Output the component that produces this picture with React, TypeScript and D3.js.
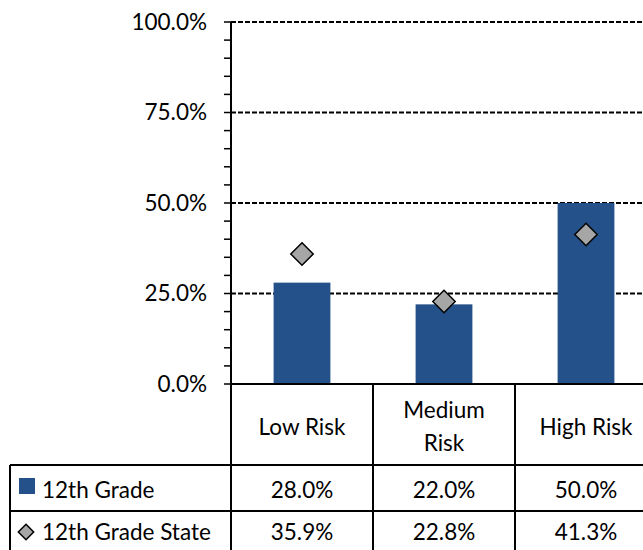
import * as d3 from 'd3';
import { useEffect, useRef } from 'react';

const categories = ['Low Risk', 'Medium Risk', 'High Risk'];
const headerLines = [['Low Risk'], ['Medium', 'Risk'], ['High Risk']];
const grade12 = [28.0, 22.0, 50.0];
const grade12State = [35.9, 22.8, 41.3];
const seriesNames = ['12th Grade', '12th Grade State'];
const yTicks = [0, 25, 50, 75, 100];

export default function App() {
  const ref = useRef<SVGSVGElement>(null);

  useEffect(() => {
    const svg = d3.select(ref.current);
    svg.selectAll('*').remove();
    const font = 'Lato, "Open Sans", sans-serif';
    const fs = 22.5;

    const left = 231;
    const top = 22;
    const bottom = 384;
    const x = d3.scaleBand<string>().domain(categories).range([left, left + 426]).paddingInner(0.6).paddingOuter(0.3);
    const band = d3.scaleBand<string>().domain(categories).range([left, left + 426]);
    const y = d3.scaleLinear().domain([0, 100]).range([bottom, top]);

    // gridlines
    svg
      .append('g')
      .selectAll('line')
      .data(yTicks.filter((t) => t > 0))
      .join('line')
      .attr('x1', left)
      .attr('x2', 643)
      .attr('y1', (d) => y(d))
      .attr('y2', (d) => y(d))
      .attr('stroke', '#000')
      .attr('stroke-width', 1.8)
      .attr('stroke-dasharray', '5,2');

    // bars
    svg
      .append('g')
      .selectAll('rect')
      .data(grade12)
      .join('rect')
      .attr('x', (_d, i) => x(categories[i])!)
      .attr('width', x.bandwidth())
      .attr('y', (d) => y(d))
      .attr('height', (d) => bottom - y(d))
      .attr('fill', '#245189');

    // diamonds
    const sym = d3.symbol().type(d3.symbolDiamond2).size(320);
    svg
      .append('g')
      .selectAll('path')
      .data(grade12State)
      .join('path')
      .attr('d', sym)
      .attr('transform', (d, i) => `translate(${band(categories[i])! + band.bandwidth() / 2},${y(d)})`)
      .attr('fill', '#a6a6a6')
      .attr('stroke', '#000')
      .attr('stroke-width', 1.5);

    // y axis
    const minor = d3.range(0, 101, 5);
    const ax = svg.append('g');
    ax.selectAll('line.tick')
      .data(minor)
      .join('line')
      .attr('class', 'tick')
      .attr('x1', left - 7)
      .attr('x2', left)
      .attr('y1', (d) => y(d))
      .attr('y2', (d) => y(d))
      .attr('stroke', '#000')
      .attr('stroke-width', 1.5);
    ax.append('line')
      .attr('x1', left)
      .attr('x2', left)
      .attr('y1', top)
      .attr('y2', bottom)
      .attr('stroke', '#000')
      .attr('stroke-width', 2);
    ax.selectAll('text')
      .data(yTicks)
      .join('text')
      .attr('x', 207)
      .attr('y', (d) => y(d))
      .attr('dy', '0.35em')
      .attr('text-anchor', 'end')
      .attr('font-family', font)
      .attr('font-size', fs)
      .attr('fill', '#000')
      .text((d) => d3.format('.1f')(d) + '%');

    // data table
    const rowTop = 465;
    const rowMid = 511;
    const tableLeft = 10;
    const t = svg.append('g').attr('stroke', '#000').attr('stroke-width', 2);
    t.append('line').attr('x1', left).attr('x2', 643).attr('y1', bottom).attr('y2', bottom);
    t.append('line').attr('x1', tableLeft).attr('x2', 643).attr('y1', rowTop).attr('y2', rowTop);
    t.append('line').attr('x1', tableLeft).attr('x2', 643).attr('y1', rowMid).attr('y2', rowMid);
    t.append('line').attr('x1', tableLeft).attr('x2', tableLeft).attr('y1', rowTop).attr('y2', 550);
    t.append('line').attr('x1', left).attr('x2', left).attr('y1', bottom).attr('y2', 550);
    t.selectAll('line.div')
      .data(categories.slice(1))
      .join('line')
      .attr('class', 'div')
      .attr('x1', (d) => band(d)!)
      .attr('x2', (d) => band(d)!)
      .attr('y1', bottom)
      .attr('y2', 550);

    const txt = svg.append('g').attr('font-family', font).attr('font-size', fs).attr('fill', '#000').attr('text-anchor', 'middle');
    headerLines.forEach((lines, i) => {
      const cx = band(categories[i])! + band.bandwidth() / 2;
      const cy = 427;
      lines.forEach((l, j) => {
        txt
          .append('text')
          .attr('x', cx)
          .attr('y', cy + (j - (lines.length - 1) / 2) * 33)
          .attr('dy', '0.35em')
          .text(l);
      });
    });
    const fmt = (v: number) => d3.format('.1f')(v) + '%';
    [grade12, grade12State].forEach((vals, r) => {
      const cy = r === 0 ? 490 : 532;
      vals.forEach((v, i) => {
        txt
          .append('text')
          .attr('x', band(categories[i])! + band.bandwidth() / 2)
          .attr('y', cy)
          .attr('dy', '0.35em')
          .text(fmt(v));
      });
    });

    // legend keys
    const lg = svg.append('g').attr('font-family', font).attr('font-size', fs).attr('fill', '#000');
    lg.append('rect').attr('x', 19).attr('y', 478).attr('width', 16).attr('height', 16).attr('fill', '#245189');
    lg.append('path')
      .attr('d', d3.symbol().type(d3.symbolDiamond2).size(150)())
      .attr('transform', `translate(26,532)`)
      .attr('fill', '#a6a6a6')
      .attr('stroke', '#000')
      .attr('stroke-width', 1.5);
    seriesNames.forEach((s, i) => {
      lg.append('text')
        .attr('x', 42)
        .attr('y', i === 0 ? 490 : 532)
        .attr('dy', '0.35em')
        .text(s);
    });
  }, []);

  return <svg ref={ref} width={643} height={550} style={{ position: 'absolute', left: 0, top: 0, background: '#fff' }} />;
}
